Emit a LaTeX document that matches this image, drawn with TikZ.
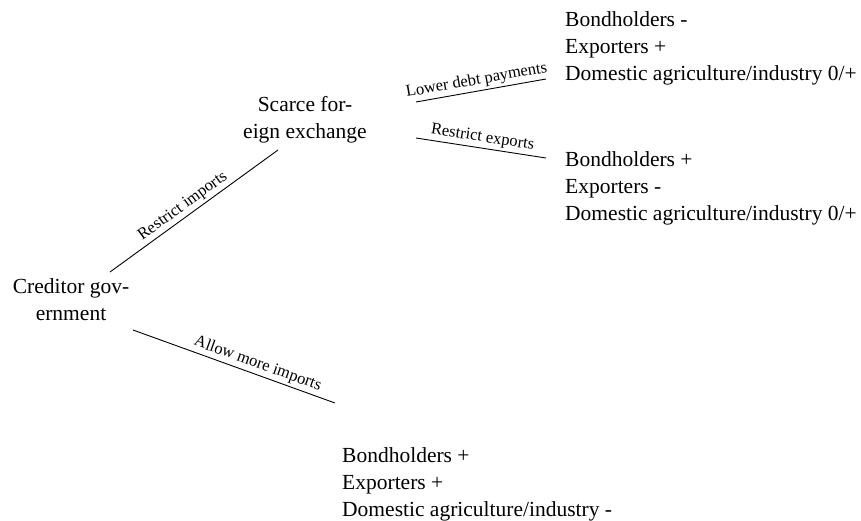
\documentclass[tikz,border=0pt]{standalone}
\usepackage{fontspec}
\setmainfont{Liberation Serif}
\begin{document}
\begin{tikzpicture}[x=1pt,y=1pt,
  txt/.style={inner sep=0pt,font=\fontsize{21.5}{27}\selectfont},
  lbl/.style={font=\fontsize{16.5}{18}\selectfont,inner sep=2.5pt,above,sloped},
  conn/.style={draw=black,line width=0.9pt}]
\useasboundingbox (0,0) rectangle (861,520);
\node[txt,align=center] (cg) at (71,220) {Creditor gov-\\ernment};
\node[txt,align=center] (sfe) at (305,400) {Scarce for-\\eign exchange};
\node[txt,align=left,anchor=west] (o1) at (565,472) {Bondholders -\\Exporters +\\Domestic agriculture/industry 0/+};
\node[txt,align=left,anchor=west] (o2) at (565,332) {Bondholders +\\Exporters -\\Domestic agriculture/industry 0/+};
\node[txt,align=left,anchor=west] (o3) at (342,36) {Bondholders +\\Exporters +\\Domestic agriculture/industry -};
\coordinate (a1) at (110,248);
\coordinate (a2) at (278,370);
\coordinate (b1) at (133,190);
\coordinate (b2) at (335,117);
\coordinate (c1) at (416,418);
\coordinate (c2) at (546,441);
\coordinate (d1) at (416,382);
\coordinate (d2) at (546,362);
\draw[conn] (a1) -- node[lbl,pos=0.47] {Restrict imports} (a2);
\draw[conn] (b1) -- node[lbl,pos=0.6] {Allow more imports} (b2);
\draw[conn] (c1) -- node[lbl,pos=0.48] {Lower debt payments} (c2);
\draw[conn] (d1) -- node[lbl,pos=0.5] {Restrict exports} (d2);
\end{tikzpicture}
\end{document}
